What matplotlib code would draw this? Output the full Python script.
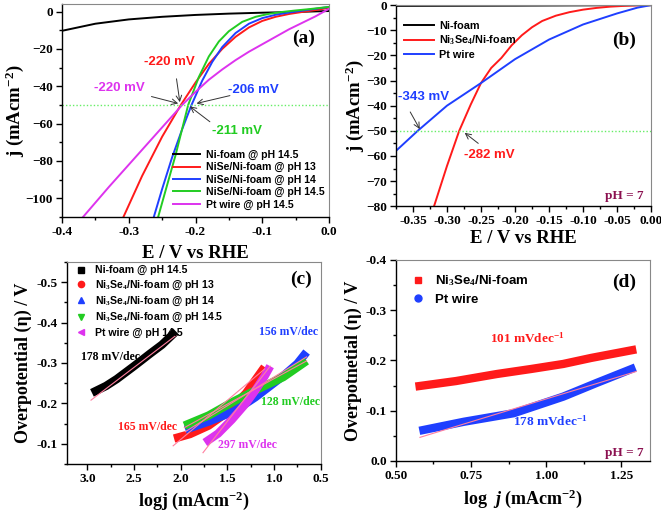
import matplotlib
matplotlib.use("Agg")
import matplotlib.pyplot as plt
from matplotlib.lines import Line2D
from matplotlib.ticker import MultipleLocator

SERIF = "Liberation Serif"
SANS = "Liberation Sans"
plt.rcParams["font.family"] = SERIF
plt.rcParams["font.weight"] = "bold"
plt.rcParams["mathtext.fontset"] = "custom"
plt.rcParams["mathtext.rm"] = "Liberation Serif:bold"
plt.rcParams["mathtext.it"] = "Liberation Serif:bold:italic"
plt.rcParams["mathtext.bf"] = "Liberation Serif:bold"

# ---- panel (a): LSV curves, alkaline
a_nifoam_E = [-0.4, -0.35, -0.3, -0.25, -0.2, -0.15, -0.1, -0.05, 0.0]
a_nifoam_j = [-10.3, -6.5, -4.2, -2.8, -1.8, -1.1, -0.6, -0.2, 0.3]
a_ph13_E = [-0.308, -0.28, -0.25, -0.222, -0.2, -0.18, -0.16, -0.14, -0.12, -0.1, -0.08, -0.06, -0.04, -0.02, 0.0]
a_ph13_j = [-110, -88, -67, -50, -38, -28, -20, -13.5, -8.5, -5, -2.8, -1.3, -0.2, 0.8, 2.0]
a_ph14_E = [-0.2625, -0.25, -0.235, -0.22, -0.206, -0.19, -0.175, -0.16, -0.14, -0.12, -0.1, -0.08, -0.06, -0.04, -0.02, 0.0]
a_ph14_j = [-110, -95, -78, -63, -50, -37, -27, -19, -11.5, -6.5, -3.5, -1.7, -0.5, 0.5, 1.5, 2.5]
a_ph145_E = [-0.256, -0.245, -0.23, -0.211, -0.195, -0.18, -0.165, -0.15, -0.13, -0.11, -0.09, -0.07, -0.05, -0.03, 0.0]
a_ph145_j = [-110, -96, -77, -50, -35, -24, -16, -10.5, -5.5, -2.8, -1.2, -0.2, 0.6, 1.3, 2.5]
a_pt_E = [-0.3685, -0.33, -0.3, -0.27, -0.245, -0.22, -0.2, -0.18, -0.16, -0.14, -0.12, -0.1, -0.08, -0.06, -0.04, -0.02, 0.0]
a_pt_j = [-110, -94, -82, -70, -60, -50, -43, -36.5, -31, -26, -21.5, -17.5, -13.5, -9.5, -6, -2.5, 1.5]

# ---- panel (b): LSV curves, pH 7
b_nifoam_E = [-0.375, -0.2, 0.0]
b_nifoam_j = [-0.3, -0.2, 0.0]
b_ni3se4_E = [-0.319, -0.3, -0.282, -0.265, -0.25, -0.235, -0.22, -0.205, -0.19, -0.175, -0.16, -0.14, -0.12, -0.1, -0.08, -0.06, -0.04, -0.02, 0.0]
b_ni3se4_j = [-80, -64, -50, -39.5, -31, -25, -21, -16, -12, -8.8, -6.3, -4.2, -2.8, -1.8, -1.1, -0.6, -0.3, -0.1, 0.0]
b_pt_E = [-0.375, -0.343, -0.3, -0.25, -0.2, -0.15, -0.1, -0.05, -0.02, 0.0]
b_pt_j = [-58, -50, -40, -31, -21.5, -13.7, -7.7, -3.3, -1.0, 0.0]

# ---- panel (c): Tafel plots, alkaline
c_nifoam_x = [2.95, 2.8, 2.685, 2.5, 2.327, 2.2, 2.05]
c_nifoam_y = [-0.226, -0.243, -0.26, -0.292, -0.323, -0.345, -0.378]
c_ph13_x = [2.07, 1.9, 1.7, 1.5, 1.3, 1.1]
c_ph13_y = [-0.113, -0.124, -0.145, -0.178, -0.225, -0.29]
c_ph14_x = [1.95, 1.7, 1.43, 1.2, 0.9, 0.75, 0.65]
c_ph14_y = [-0.135, -0.155, -0.18, -0.215, -0.268, -0.298, -0.327]
c_ph145_x = [1.96, 1.7, 1.43, 1.2, 0.9, 0.65]
c_ph145_y = [-0.145, -0.17, -0.205, -0.232, -0.265, -0.305]
c_pt_x = [1.74, 1.6, 1.45, 1.3, 1.2, 1.1, 1.04]
c_pt_y = [-0.103, -0.125, -0.16, -0.2, -0.232, -0.267, -0.292]
c_fits = [([2.96, 2.05], [-0.208, -0.368]),
          ([2.08, 1.1], [-0.095, -0.285]),
          ([1.95, 0.65], [-0.13, -0.315]),
          ([1.96, 0.65], [-0.14, -0.305]),
          ([1.76, 1.04], [-0.078, -0.292])]

# ---- panel (d): Tafel plots, pH 7
d_ni3se4_x = [0.565, 0.7, 0.836, 0.95, 1.057, 1.15, 1.3]
d_ni3se4_y = [-0.148, -0.159, -0.173, -0.183, -0.193, -0.205, -0.222]
d_pt_x = [0.578, 0.726, 0.892, 1.057, 1.167, 1.297]
d_pt_y = [-0.06, -0.078, -0.095, -0.128, -0.155, -0.186]
d_fit_x = [0.58, 1.3]
d_fit_y = [-0.047, -0.178]

RED = "#ff1a1a"
BLUE = "#1f3fff"
GREEN = "#22cc22"
MAG = "#dd33ee"
PHCOL = "#8b1050"
FIT = "#ff7f9f"


def style(ax):
    for s in ("top", "right"):
        ax.spines[s].set_color("#888888")
    for s in ("left", "bottom"):
        ax.spines[s].set_color("black")
        ax.spines[s].set_linewidth(1.0)
    ax.tick_params(which="both", direction="out", top=False, right=False,
                   labelsize=9.5, width=1.0, pad=2.5)
    ax.tick_params(which="major", length=4)
    ax.tick_params(which="minor", length=2.5)
    for lab in ax.get_xticklabels() + ax.get_yticklabels():
        lab.set_fontweight("bold")


fig = plt.figure(figsize=(6.61, 5.13), dpi=100)
ax_a = fig.add_axes([0.0938, 0.577, 0.404, 0.415])
ax_b = fig.add_axes([0.599, 0.598, 0.386, 0.392])
ax_c = fig.add_axes([0.101, 0.0955, 0.384, 0.394])
ax_d = fig.add_axes([0.599, 0.1014, 0.384, 0.392])

lw = 1.4
arrow = dict(arrowstyle="->", color="#333333", lw=0.7, shrinkA=0, shrinkB=0)
ann = dict(fontsize=9.5, fontweight="bold", family=SANS, ha="center", va="center")

# (a)
ax = ax_a
ax.plot(a_nifoam_E, a_nifoam_j, color="black", lw=lw, label="Ni-foam @ pH 14.5")
ax.plot(a_ph13_E, a_ph13_j, color=RED, lw=lw, label="NiSe/Ni-foam @ pH 13")
ax.plot(a_ph14_E, a_ph14_j, color=BLUE, lw=lw, label="NiSe/Ni-foam @ pH 14")
ax.plot(a_ph145_E, a_ph145_j, color=GREEN, lw=lw, label="NiSe/Ni-foam @ pH 14.5")
ax.plot(a_pt_E, a_pt_j, color=MAG, lw=lw, label="Pt wire @ pH 14.5")
ax.axhline(-50, color="#66ee66", lw=1.0, ls=(0, (1, 1.5)))
ax.set_xlim(-0.4, 0.0)
ax.set_ylim(-110, 4)
ax.xaxis.set_minor_locator(MultipleLocator(0.05))
ax.yaxis.set_major_locator(MultipleLocator(20))
ax.yaxis.set_minor_locator(MultipleLocator(10))
ax.set_xticks([-0.4, -0.3, -0.2, -0.1, 0.0])
ax.set_xticklabels(["-0.4", "-0.3", "-0.2", "-0.1", "0.0"])
ax.set_ylabel("j (mAcm$^{-2}$)", fontsize=13.5, fontweight="bold", labelpad=0)
ax.set_xlabel("E / V vs RHE", fontsize=13.5, fontweight="bold", labelpad=5)
ax.text(-0.2385, -27, "-220 mV", color=RED, **ann)
ax.annotate("", xy=(-0.2235, -48.5), xytext=(-0.2285, -36), arrowprops=arrow)
ax.text(-0.3135, -41, "-220 mV", color=MAG, **ann)
ax.annotate("", xy=(-0.226, -49.2), xytext=(-0.266, -45.5), arrowprops=arrow)
ax.text(-0.1135, -41.8, "-206 mV", color=BLUE, **ann)
ax.annotate("", xy=(-0.1985, -49.2), xytext=(-0.1485, -45), arrowprops=arrow)
ax.text(-0.1385, -64, "-211 mV", color=GREEN, **ann)
ax.annotate("", xy=(-0.2085, -50.8), xytext=(-0.1785, -59), arrowprops=arrow)
ax.text(0.905, 0.84, "(a)", transform=ax.transAxes, fontsize=14,
        fontweight="bold", ha="center", va="center")
ax.legend(loc="lower right", bbox_to_anchor=(1.01, 0.0), frameon=False,
          prop={"family": SANS, "weight": "bold", "size": 7.6},
          handlelength=2.6, handletextpad=0.5, labelspacing=0.22,
          borderaxespad=0.3)
style(ax)

# (b)
ax = ax_b
ax.plot(b_nifoam_E, b_nifoam_j, color="black", lw=lw, label="Ni-foam")
ax.plot(b_ni3se4_E, b_ni3se4_j, color=RED, lw=lw, label="Ni$_3$Se$_4$/Ni-foam")
ax.plot(b_pt_E, b_pt_j, color=BLUE, lw=lw, label="Pt wire")
ax.axhline(-50, color="#66ee66", lw=1.0, ls=(0, (1, 1.5)))
ax.set_xlim(-0.375, 0.0)
ax.set_ylim(-80, 0)
ax.xaxis.set_minor_locator(MultipleLocator(0.025))
ax.yaxis.set_major_locator(MultipleLocator(10))
ax.yaxis.set_minor_locator(MultipleLocator(5))
ax.set_xticks([-0.35, -0.3, -0.25, -0.2, -0.15, -0.1, -0.05, 0.0])
ax.set_xticklabels(["-0.35", "-0.30", "-0.25", "-0.20", "-0.15", "-0.10", "-0.05", "0.00"])
ax.set_ylabel("j (mAcm$^{-2}$)", fontsize=13.5, fontweight="bold", labelpad=0)
ax.set_xlabel("E / V vs RHE", fontsize=13.5, fontweight="bold", labelpad=2)
ax.text(-0.335, -36.5, "-343 mV", color=BLUE, **ann)
ax.annotate("", xy=(-0.34, -49.3), xytext=(-0.354, -42.5), arrowprops=arrow)
ax.text(-0.2374, -59.8, "-282 mV", color=RED, **ann)
ax.annotate("", xy=(-0.274, -50.8), xytext=(-0.254, -55), arrowprops=arrow)
ax.text(0.895, 0.825, "(b)", transform=ax.transAxes, fontsize=14,
        fontweight="bold", ha="center", va="center")
ax.text(0.895, 0.02, "pH = 7", transform=ax.transAxes, fontsize=9.5,
        fontweight="bold", color=PHCOL, ha="center", va="bottom")
ax.legend(loc="upper left", bbox_to_anchor=(0.0, 0.96), frameon=False,
          prop={"family": SANS, "weight": "bold", "size": 7.8},
          handlelength=2.8, handletextpad=0.5, labelspacing=0.25,
          borderaxespad=0.3)
style(ax)

# (c)
ax = ax_c
big = 6.0
ax.plot(c_nifoam_x, c_nifoam_y, color="black", lw=big, solid_capstyle="butt")
ax.plot(c_ph13_x, c_ph13_y, color=RED, lw=big, solid_capstyle="butt")
ax.plot(c_ph14_x, c_ph14_y, color=BLUE, lw=big, solid_capstyle="butt")
ax.plot(c_ph145_x, c_ph145_y, color=GREEN, lw=big, solid_capstyle="butt")
ax.plot(c_pt_x, c_pt_y, color=MAG, lw=big, solid_capstyle="butt")
for fx, fy in c_fits:
    ax.plot(fx, fy, color=FIT, lw=0.8)
ax.set_xlim(3.22, 0.5)
ax.set_ylim(-0.05, -0.55)
ax.xaxis.set_minor_locator(MultipleLocator(0.25))
ax.yaxis.set_minor_locator(MultipleLocator(0.05))
ax.set_xticks([3.0, 2.5, 2.0, 1.5, 1.0, 0.5])
ax.set_xticklabels(["3.0", "2.5", "2.0", "1.5", "1.0", "0.5"])
ax.set_yticks([-0.1, -0.2, -0.3, -0.4, -0.5])
ax.set_yticklabels(["-0.1", "-0.2", "-0.3", "-0.4", "-0.5"])
ax.set_ylabel("Overpotential (\u03b7) / V", fontsize=13, fontweight="bold", labelpad=3)
ax.set_xlabel("logj (mAcm$^{-2}$)", fontsize=13, fontweight="bold", labelpad=3)
ax.text(2.756, -0.314, "178 mV/dec", color="black", fontsize=8.5, ha="center", va="center")
ax.text(0.84, -0.376, "156 mV/dec", color=BLUE, fontsize=8.5, ha="center", va="center")
ax.text(0.822, -0.203, "128 mV/dec", color=GREEN, fontsize=8.5, ha="center", va="center")
ax.text(2.36, -0.141, "165 mV/dec", color=RED, fontsize=8.5, ha="center", va="center")
ax.text(1.288, -0.096, "297 mV/dec", color=MAG, fontsize=8.5, ha="center", va="center")
ax.text(0.715, -0.508, "(c)", fontsize=14, fontweight="bold", ha="center", va="center")
handles = [Line2D([], [], ls="", marker="s", color="black", ms=4.5),
           Line2D([], [], ls="", marker="o", color=RED, ms=4.5),
           Line2D([], [], ls="", marker="^", color=BLUE, ms=4.5),
           Line2D([], [], ls="", marker="v", color=GREEN, ms=4.5),
           Line2D([], [], ls="", marker="<", color=MAG, ms=4.5)]
labels = ["Ni-foam @ pH 14.5", "Ni$_3$Se$_4$/Ni-foam @ pH 13",
          "Ni$_3$Se$_4$/Ni-foam @ pH 14", "Ni$_3$Se$_4$/Ni-foam @ pH 14.5",
          "Pt wire @ pH 14.5"]
ax.legend(handles, labels, loc="upper left", bbox_to_anchor=(-0.005, 1.02), frameon=False,
          prop={"family": SANS, "weight": "bold", "size": 7.6},
          handlelength=1.6, handletextpad=0.5, labelspacing=0.3, borderaxespad=0.3)
style(ax)

# (d)
ax = ax_d
ax.plot(d_ni3se4_x, d_ni3se4_y, color=RED, lw=big, solid_capstyle="butt")
ax.plot(d_pt_x, d_pt_y, color=BLUE, lw=big, solid_capstyle="butt")
ax.plot(d_fit_x, d_fit_y, color=FIT, lw=0.8)
ax.set_xlim(0.5, 1.345)
ax.set_ylim(0.0, -0.4)
ax.xaxis.set_minor_locator(MultipleLocator(0.125))
ax.yaxis.set_minor_locator(MultipleLocator(0.05))
ax.set_xticks([0.5, 0.75, 1.0, 1.25])
ax.set_xticklabels(["0.50", "0.75", "1.00", "1.25"])
ax.set_yticks([0.0, -0.1, -0.2, -0.3, -0.4])
ax.set_yticklabels(["0.0", "-0.1", "-0.2", "-0.3", "-0.4"])
ax.set_ylabel("Overpotnetial (\u03b7) / V", fontsize=13, fontweight="bold", labelpad=3)
ax.set_xlabel("log  $j$ (mAcm$^{-2}$)", fontsize=13, fontweight="bold", labelpad=4)
ax.text(0.936, -0.245, "101 mVdec$^{-1}$", color=RED, fontsize=9.5, ha="center", va="center")
ax.text(1.013, -0.078, "178 mVdec$^{-1}$", color=BLUE, fontsize=9.5, ha="center", va="center")
ax.text(1.261, -0.355, "(d)", fontsize=14, fontweight="bold", ha="center", va="center")
ax.text(1.261, -0.003, "pH = 7", fontsize=9.5, fontweight="bold", color=PHCOL,
        ha="center", va="bottom")
handles = [Line2D([], [], ls="", marker="s", color=RED, ms=5),
           Line2D([], [], ls="", marker="o", color=BLUE, ms=5)]
ax.legend(handles, ["Ni$_3$Se$_4$/Ni-foam", "Pt wire"], loc="upper left",
          bbox_to_anchor=(0.01, 0.98), frameon=False,
          prop={"family": SANS, "weight": "bold", "size": 9.5},
          handlelength=1.5, handletextpad=0.6, labelspacing=0.45, borderaxespad=0.3)
style(ax)

fig.savefig("out.png", dpi=100)
